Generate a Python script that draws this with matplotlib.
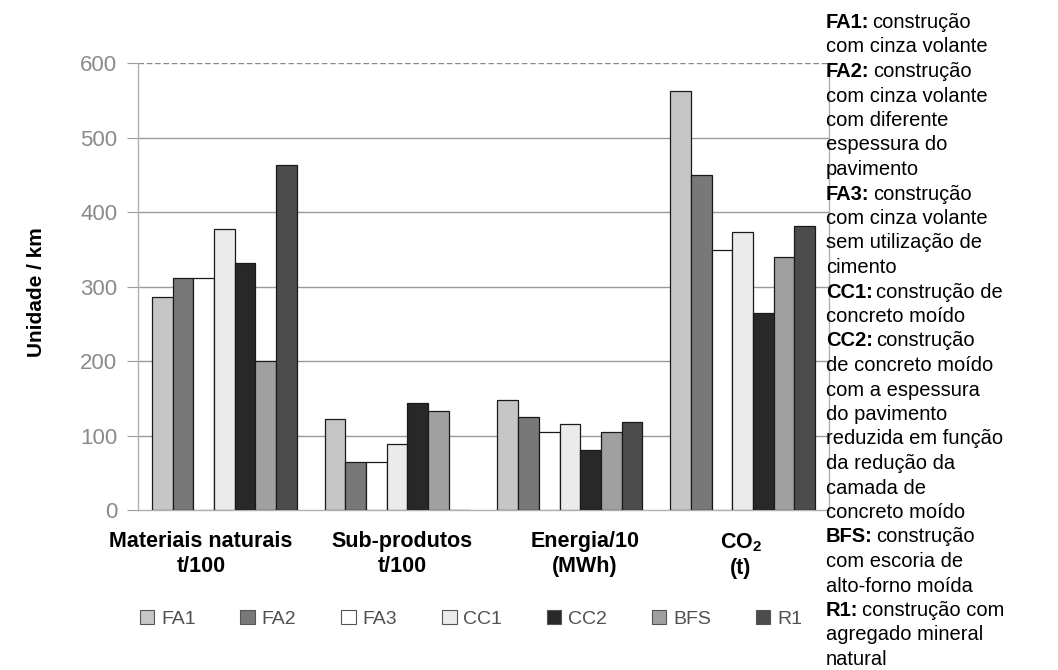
import matplotlib
matplotlib.use("Agg")
import matplotlib.pyplot as plt
import numpy as np
from matplotlib.patches import Patch

plt.rcParams['font.family'] = ['Liberation Sans', 'DejaVu Sans']
plt.rcParams['mathtext.fontset'] = 'custom'
plt.rcParams['mathtext.rm'] = 'Liberation Sans'
plt.rcParams['mathtext.bf'] = 'Liberation Sans:bold'

categories = ["Materiais naturais\nt/100", "Sub-produtos\nt/100", "Energia/10\n(MWh)", "CO$_\\mathbf{2}$\n(t)"]
series = ["FA1", "FA2", "FA3", "CC1", "CC2", "BFS", "R1"]
FA1 = [286, 122, 148, 563]
FA2 = [311, 64, 125, 450]
FA3 = [311, 64, 105, 349]
CC1 = [378, 89, 116, 374]
CC2 = [332, 144, 80, 265]
BFS = [200, 133, 105, 340]
R1 = [463, 0, 118, 382]
values = [FA1, FA2, FA3, CC1, CC2, BFS, R1]
colors = ["#c6c6c6", "#787878", "#ffffff", "#ebebeb", "#282828", "#a0a0a0", "#4c4c4c"]
yticks = [0, 100, 200, 300, 400, 500, 600]

notes = [
    ("FA1:", "construção"), ("", "com cinza volante"),
    ("FA2:", "construção"), ("", "com cinza volante"), ("", "com diferente"),
    ("", "espessura do"), ("", "pavimento"),
    ("FA3:", "construção"), ("", "com cinza volante"), ("", "sem utilização de"),
    ("", "cimento"),
    ("CC1:", "construção de"), ("", "concreto moído"),
    ("CC2:", "construção"), ("", "de concreto moído"), ("", "com a espessura"),
    ("", "do pavimento"), ("", "reduzida em função"), ("", "da redução da"),
    ("", "camada de"), ("", "concreto moído"),
    ("BFS:", "construção"), ("", "com escoria de"), ("", "alto-forno moída"),
    ("R1:", "construção com"), ("", "agregado mineral"), ("", "natural"),
]

W, H = 1058, 670
fig = plt.figure(figsize=(W / 100, H / 100), dpi=100)
ax = fig.add_axes([138 / W, 1 - 510 / H, (829 - 138) / W, (510 - 63.3) / H])

x = np.arange(len(categories))
bw = 0.12
n = len(series)
for i, (name, vals, c) in enumerate(zip(series, values, colors)):
    offs = (i - (n - 1) / 2) * bw
    ax.bar(x + offs, vals, width=bw, color=c, edgecolor="#1a1a1a", linewidth=0.9,
           zorder=3, label=name)

ax.set_xlim(-0.5, 3.5)
ax.set_ylim(0, 600)
ax.set_yticks(yticks)
ax.set_yticklabels([str(v) for v in yticks], fontsize=16, color="#8a8a8a")
ax.tick_params(axis="y", length=8, width=0.8, color="#9a9a9a", pad=7)
ax.set_xticks([])
for v in yticks[1:-1]:
    ax.axhline(v, color="#9a9a9a", linewidth=1.0, zorder=1)
ax.axhline(600, color="#8a8a8a", linewidth=1.0, linestyle=(0, (4, 2)), zorder=1)
ax.spines["top"].set_visible(False)
for s in ["left", "right", "bottom"]:
    ax.spines[s].set_color("#b0b0b0")
    ax.spines[s].set_linewidth(1.0)

# Category labels (under the groups)
label_x_px = [201, 402, 585, 741]
for lab, px in zip(categories, label_x_px):
    fig.text(px / W, 1 - 531 / H, lab, ha="center", va="top", fontsize=15.5,
             fontweight="bold", linespacing=1.25)

# Y label
fig.text(36 / W, 1 - 292 / H, "Unidade / km", rotation=90, ha="center", va="center",
         fontsize=15, fontweight="bold")

# Legend
handles = [Patch(facecolor=c, edgecolor="#555555", linewidth=0.8) for c in colors]
leg = fig.legend(handles, series, loc="center", bbox_to_anchor=(471 / W, 1 - 619 / H),
                 ncol=7, frameon=False, fontsize=14, handlelength=0.75, handleheight=0.75,
                 handletextpad=0.35, columnspacing=2.3)
for t in leg.get_texts():
    t.set_color("#505050")

# Right-side notes
x0 = 826 / W
fig.canvas.draw()
for i, (b, r) in enumerate(notes):
    yb = 1 - (28 + 24.5 * i) / H
    if b:
        tb = fig.text(x0, yb, b, ha="left", va="baseline", fontsize=14.5, fontweight="bold")
        bb = tb.get_window_extent(renderer=fig.canvas.get_renderer())
        fig.text((bb.x1 + 3) / W, yb, r, ha="left", va="baseline", fontsize=14.5)
    else:
        fig.text(x0, yb, r, ha="left", va="baseline", fontsize=14.5)

fig.savefig("out.png", dpi=100)
